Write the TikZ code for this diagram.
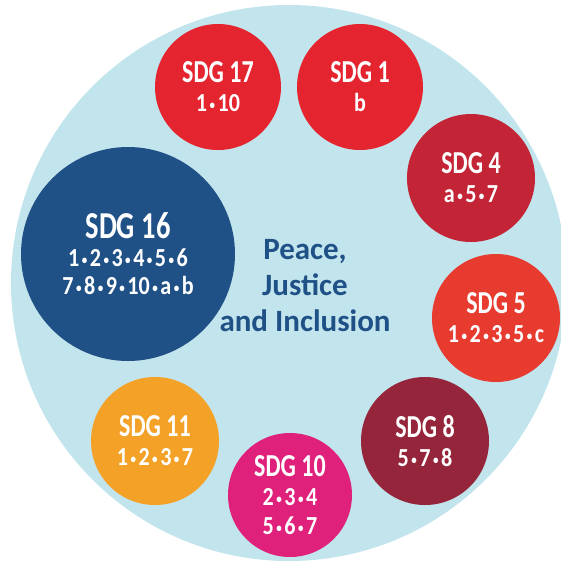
\documentclass[tikz,border=0pt]{standalone}
\usepackage{fontspec}
\setmainfont{Carlito}[FakeStretch=0.75]
\newfontfamily\numfont{Carlito}[FakeStretch=0.85]
\newfontfamily\themefont{Carlito}
\definecolor{ringblue}{HTML}{C2E4EC}
\definecolor{redA}{HTML}{E4252F}
\definecolor{redB}{HTML}{C32536}
\definecolor{redC}{HTML}{E73B30}
\definecolor{wine}{HTML}{94253A}
\definecolor{magenta}{HTML}{E0217B}
\definecolor{amber}{HTML}{F4A127}
\definecolor{navy}{HTML}{1F5187}
\newcommand\bul{\hspace{2.5pt}\raisebox{2pt}{\fontsize{13}{13}\selectfont\textbullet}\hspace{2.5pt}}
\newcommand\sdg[1]{{\fontsize{32}{32}\selectfont SDG #1}}
\newcommand\nums[1]{{\numfont\fontsize{26}{26}\selectfont #1}}
\begin{document}
\begin{tikzpicture}[x=1pt,y=-1pt,
				goal/.style={circle, draw=none, inner sep=0, minimum size=126pt, text=white, align=center, font=\fontsize{20}{29}\selectfont\bfseries}]
				\useasboundingbox (0,0) rectangle (561,566);
				\clip (0,0) rectangle (561,566);
				
				\node [circle, fill=ringblue, minimum size=556pt, inner sep=0] (ring) at (289,283) {};
				\node [goal, fill=redA] (sdg17) at (218,87) {\sdg{17}\\\nums{1\bul10}};
				\node [goal, fill=redA] (sdg1) at (360,87) {\sdg{1}\\\nums{b}};
				\node [goal, fill=redB, minimum size=128pt] (sdg4) at (471,178) {\sdg{4}\\\nums{a\bul5\bul7}};
				\node [goal, fill=redC, minimum size=128pt] (sdg5) at (496,318) {\sdg{5}\\\nums{1\bul2\bul3\bul5\bul c}};
				\node [goal, fill=wine, minimum size=128pt] (sdg8) at (425,441) {\sdg{8}\\\nums{5\bul7\bul8}};
				\node [goal, fill=magenta, minimum size=124pt] (sdg10) at (290,495) {\sdg{10}\\\nums{2\bul3\bul4}\\\nums{5\bul6\bul7}};
				\node [goal, fill=amber, minimum size=128pt] (sdg11) at (155,441) {\sdg{11}\\\nums{1\bul2\bul3\bul7}};
				\node [goal, fill=navy, minimum size=214pt, font=\fontsize{20}{28}\selectfont\bfseries] (sdg16) at (128,254) {{\fontsize{38}{38}\selectfont SDG 16}\\\nums{1\bul2\bul3\bul4\bul5\bul6}\\\nums{7\bul8\bul9\bul10\bul a\bul b}};
				
				\node [align=center, text=navy, font=\themefont\fontsize{31}{36}\selectfont\bfseries] (theme) at (305,286) {Peace,\\Justice\\and Inclusion};
				\end{tikzpicture}
\end{document}
